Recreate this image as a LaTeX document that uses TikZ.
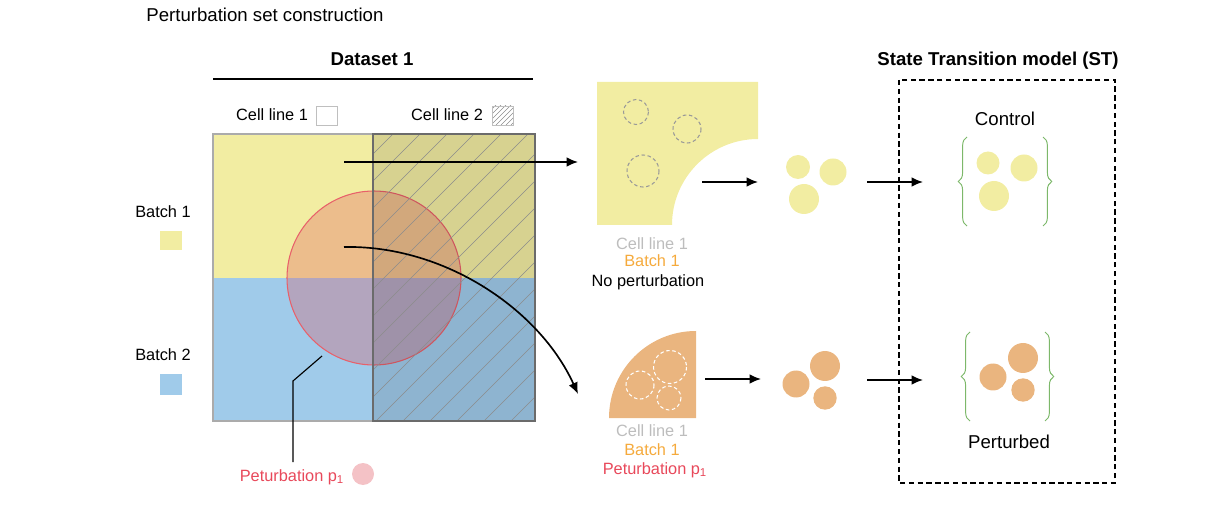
\documentclass[tikz,border=0pt]{standalone}
\usepackage{fontspec}
\setmainfont{Liberation Sans}
\usetikzlibrary{arrows.meta,decorations.pathreplacing}

\definecolor{batchyellow}{HTML}{F2EDA2}
\definecolor{batchblue}{HTML}{A0CBEA}
\definecolor{pertred}{HTML}{E0505B}
\definecolor{ringred}{HTML}{E8606A}
\definecolor{cellorange}{HTML}{EAB57F}
\definecolor{bracegreen}{HTML}{7DB86A}
\definecolor{labelgrey}{HTML}{BDBDBD}
\definecolor{labelorange}{HTML}{F5AA3C}
\definecolor{labelred}{HTML}{E8485A}

\tikzset{
	lbl/.style={inner sep=0pt, anchor=base, font=\fontsize{9.3}{11}\selectfont},
	big/.style={inner sep=0pt, anchor=base, font=\fontsize{10.6}{12}\selectfont},
	bigbold/.style={inner sep=0pt, anchor=base, font=\fontsize{10.6}{12}\selectfont\bfseries},
	flow/.style={-{Latex[length=6.5pt,width=5.5pt]}, line width=0.95pt},
	cellring/.style={dash pattern=on 2pt off 1.5pt, line width=0.6pt},
	grp/.style={draw=bracegreen, line width=0.55pt, decorate, decoration={brace, amplitude=5pt}},
	hatch/.style={draw=black!45, line width=0.35pt},
}

\begin{document}
\begin{tikzpicture}[x=0.02cm, y=-0.02cm]
	\useasboundingbox (0,0) rectangle (1210,506);

	% headings
	\node[big, anchor=base west] (title) at (146,22) {Perturbation set construction};
	\node[bigbold] (dataset) at (372,66) {Dataset 1};
	\coordinate (rule_l) at (213,79);
	\coordinate (rule_r) at (533,79);
	\draw[line width=0.7pt] (rule_l) -- (rule_r);

	% legends
	\node[lbl] (cl1) at (272,121) {Cell line 1};
	\draw[draw=black!25, line width=0.5pt] (316,106) rectangle (337,125);
	\node[lbl] (cl2) at (447,121) {Cell line 2};
	\begin{scope}
		\clip (492,106) rectangle (513,125);
		\foreach \hx in {476,481,...,516}
			\draw[hatch] (\hx,125) -- ++(22,-22);
	\end{scope}
	\draw[draw=black!25, line width=0.5pt] (492,106) rectangle (513,125);
	\node[lbl] (b1) at (163,218) {Batch 1};
	\fill[batchyellow] (160,231) rectangle (182,250);
	\node[lbl] (b2) at (163,360) {Batch 2};
	\fill[batchblue] (160,374) rectangle (182,395);

	% dataset grid
	\fill[batchyellow] (213,134) rectangle (535,278);
	\fill[batchblue] (213,278) rectangle (535,421);
	\fill[pertred, fill opacity=0.3] (374,278) circle[radius=87];
	\draw[ringred, line width=0.6pt] (374,278) circle[radius=87];
	\fill[black, fill opacity=0.11] (373,134) rectangle (535,421);
	\begin{scope}
		\clip (373,134) rectangle (535,421);
		\foreach \hx in {79,106,...,540}
			\draw[hatch] (\hx,421) -- ++(290,-290);
	\end{scope}
	\draw[black!33, line width=1.1pt] (213,134) rectangle (373,421);
	\draw[black!58, line width=1.4pt] (373,134) rectangle (535,421);

	% perturbation callout
	\coordinate (p_in) at (322,356);
	\coordinate (p_knee) at (293,381);
	\coordinate (p_out) at (293,462);
	\draw[line width=0.65pt] (p_in) -- (p_knee) -- (p_out);
	\node[lbl, text=labelred] (pert) at (292,481) {Peturbation p\textsubscript{1}};
	\fill[pertred!35] (363,474) circle[radius=11];

	% control subset
	\fill[batchyellow] (597,82) -- (758,82) -- (758,139) arc[start angle=-90, end angle=-180, radius=86] -- (597,225) -- cycle;
	\draw[cellring, black!40] (636,112) circle[radius=12.5];
	\draw[cellring, black!40] (687,129) circle[radius=14];
	\draw[cellring, black!40] (643,171) circle[radius=16];
	\node[lbl, text=labelgrey] (ctl_cl) at (652,250) {Cell line 1};
	\node[lbl, text=labelorange] (ctl_b) at (652,267) {Batch 1};
	\node[lbl] (ctl_p) at (648,287) {No perturbation};

	% perturbed subset
	\fill[cellorange] (696,418) -- (696,331) arc[start angle=-90, end angle=-180, radius=87] -- cycle;
	\draw[cellring, white] (640,385) circle[radius=14];
	\draw[cellring, white] (670,367) circle[radius=16.5];
	\draw[cellring, white] (669,398) circle[radius=12];
	\node[lbl, text=labelgrey] (prt_cl) at (652,437) {Cell line 1};
	\node[lbl, text=labelorange] (prt_b) at (652,455) {Batch 1};
	\node[lbl, text=labelred] (prt_p) at (655,474) {Peturbation p\textsubscript{1}};

	% sampled cells
	\fill[batchyellow] (798,167) circle[radius=12];
	\fill[batchyellow] (833,172) circle[radius=13.5];
	\fill[batchyellow] (804,199) circle[radius=15];
	\fill[cellorange] (796,384) circle[radius=13.5];
	\fill[cellorange] (825,366) circle[radius=15];
	\fill[cellorange] (825,398) circle[radius=11.7];

	% ST model
	\node[bigbold] (st) at (998,66) {State Transition model (ST)};
	\draw[dash pattern=on 3pt off 2pt, line width=0.6pt] (899,80) rectangle (1115,483);
	\node[big] (ctrl) at (1005,126) {Control};
	\draw[grp] (967,226) -- (967,137);
	\draw[grp] (1043,137) -- (1043,226);
	\fill[batchyellow] (988,163) circle[radius=11.5];
	\fill[batchyellow] (1024,168) circle[radius=13.5];
	\fill[batchyellow] (994,196) circle[radius=15];
	\node[big] (pbd) at (1009,448) {Perturbed};
	\draw[grp] (970,421) -- (970,332);
	\draw[grp] (1045,332) -- (1045,421);
	\fill[cellorange] (993,377) circle[radius=13.5];
	\fill[cellorange] (1023,358) circle[radius=15];
	\fill[cellorange] (1023,390) circle[radius=11.7];

	% arrows
	\coordinate (top_s) at (344,162);
	\coordinate (top_e) at (578,162);
	\coordinate (cur_s) at (344,247);
	\coordinate (cur_e) at (578,394);
	\draw[flow] (top_s) -- (top_e);
	\draw[flow] (cur_s) .. controls (445,245) and (540,310) .. (cur_e);
	\coordinate (m1_s) at (702,182);
	\coordinate (m1_e) at (758,182);
	\coordinate (m2_s) at (705,379);
	\coordinate (m2_e) at (761,379);
	\draw[flow] (m1_s) -- (m1_e);
	\draw[flow] (m2_s) -- (m2_e);
	\coordinate (r1_s) at (867,182);
	\coordinate (r1_e) at (923,182);
	\coordinate (r2_s) at (867,380);
	\coordinate (r2_e) at (923,380);
	\draw[flow] (r1_s) -- (r1_e);
	\draw[flow] (r2_s) -- (r2_e);
\end{tikzpicture}
\end{document}
